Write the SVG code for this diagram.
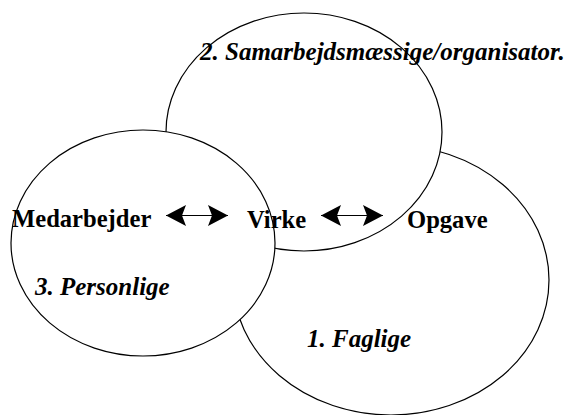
<svg xmlns="http://www.w3.org/2000/svg" width="572" height="415" viewBox="0 0 572 415">
<style>
.ell{fill:#fff;stroke:#000;stroke-width:1.2}
.lbl{font-family:'Liberation Serif','Times New Roman',serif;font-weight:700;font-size:24.6px;fill:#000}
.it{font-style:italic;font-size:25px}
.conn{stroke:#000;stroke-width:1.2;fill:none}
</style>
<defs>
<marker id="head" viewBox="-21 -12 22 24" refX="0" refY="0" markerWidth="22" markerHeight="24" markerUnits="userSpaceOnUse" orient="auto-start-reverse">
<path d="M0,0 L-20,-10.5 L-16,0 L-20,10.5 Z" fill="#000"/>
</marker>
</defs>
<rect width="572" height="415" fill="#fff"/>
<g id="faglige">
<ellipse class="ell" cx="391" cy="280" rx="158" ry="135"/>
<text class="lbl it" x="307" y="347">1. Faglige</text>
</g>
<g id="samarbejdsmaessige">
<ellipse class="ell" cx="304" cy="132" rx="138" ry="119"/>
<text class="lbl it" x="200" y="60">2. Samarbejdsmæssige/organisator.</text>
</g>
<g id="personlige">
<ellipse class="ell" cx="143" cy="243" rx="132" ry="113"/>
<text class="lbl it" x="35" y="295">3. Personlige</text>
</g>
<g id="medarbejder">
<text class="lbl" x="12" y="227">Medarbejder</text>
</g>
<g id="virke">
<text class="lbl" x="247" y="228">Virke</text>
</g>
<g id="opgave">
<text class="lbl" x="407" y="228">Opgave</text>
</g>
<g id="connectors">
<line class="conn" x1="166" y1="215.5" x2="228" y2="215.5" marker-start="url(#head)" marker-end="url(#head)"/>
<line class="conn" x1="321" y1="215.5" x2="383" y2="215.5" marker-start="url(#head)" marker-end="url(#head)"/>
</g>
</svg>
